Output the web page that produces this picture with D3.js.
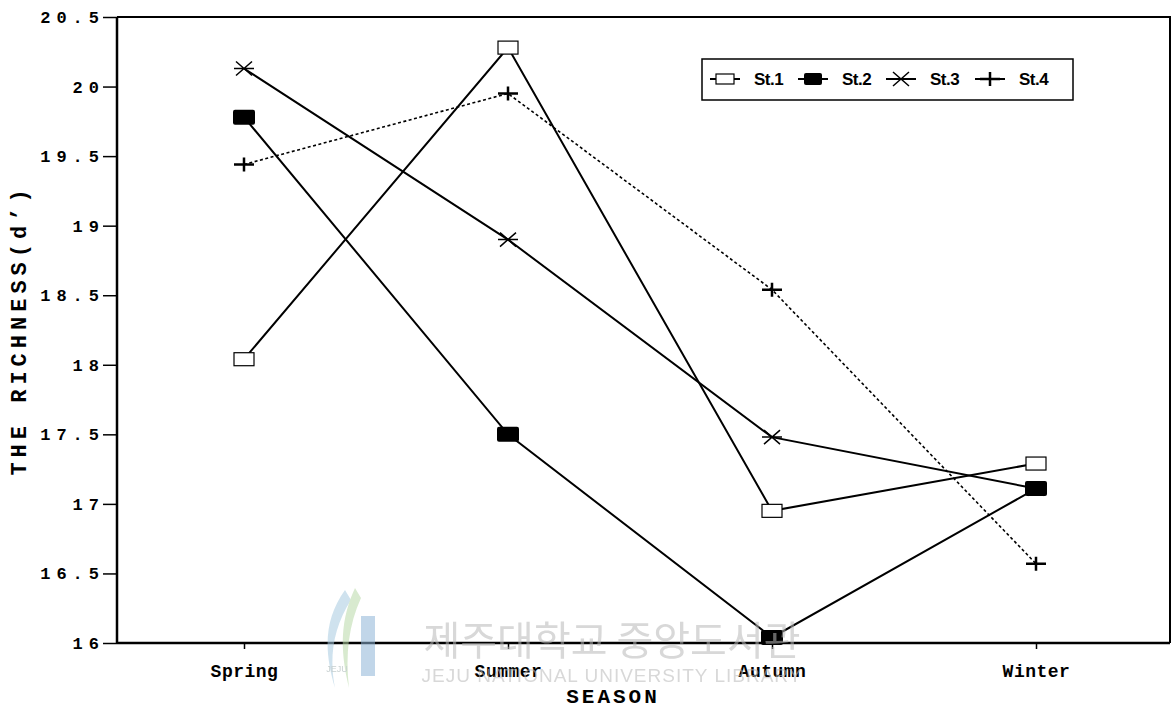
<!DOCTYPE html>
<html>
<head>
<meta charset="utf-8">
<script src="https://cdn.jsdelivr.net/npm/d3@7"></script>
<style>
  body { margin: 0; background: #fff; }
  svg { display: block; }
</style>
</head>
<body>
<script>
'use strict';

// data
const seasons = ["Spring", "Summer", "Autumn", "Winter"];
const stations = ["St.1", "St.2", "St.3", "St.4"];
const st1 = [18.04, 20.28, 16.95, 17.29];
const st2 = [19.78, 17.50, 16.04, 17.11];
const st3 = [20.13, 18.90, 17.48, 17.11];
const st4 = [19.44, 19.95, 18.54, 16.57];
const yTicks = [16, 16.5, 17, 17.5, 18, 18.5, 19, 19.5, 20, 20.5];
const yTickLabels = ["16", "16.5", "17", "17.5", "18", "18.5", "19", "19.5", "20", "20.5"];

(function() {
    const series = [
        {name: stations[0], values: st1, marker: "openSquare", dash: null},
        {name: stations[1], values: st2, marker: "filledSquare", dash: null},
        {name: stations[2], values: st3, marker: "asterisk", dash: null},
        {name: stations[3], values: st4, marker: "plus", dash: "3,2.5"}
    ];

    const width = 1174, height = 711;
    const plotLeft = 117, plotRight = 1170, plotTop = 17, plotBottom = 643;
    const monoFont = "'Liberation Mono', 'DejaVu Sans Mono', monospace";

    const svg = d3.select("body").append("svg")
        .attr("width", width)
        .attr("height", height);

    const x = d3.scalePoint().domain(seasons).range([244, 1036]);
    const y = d3.scaleLinear().domain([16, 20.5]).range([plotBottom, plotTop]);

    // frame: top and right lines
    svg.append("path")
        .attr("d", "M" + plotLeft + "," + plotTop + "H" + plotRight + "V" + plotBottom)
        .attr("fill", "none")
        .attr("stroke", "#000")
        .attr("stroke-width", 2);

    // y axis
    const yAxis = d3.axisLeft(y)
        .tickValues(yTicks)
        .tickFormat((d, i) => yTickLabels[i])
        .tickSize(14)
        .tickPadding(4);
    const gy = svg.append("g")
        .attr("transform", "translate(" + plotLeft + ",0)")
        .call(yAxis);
    gy.select(".domain").attr("stroke-width", 2.5).attr("d", "M0," + plotTop + "V" + plotBottom);
    gy.selectAll(".tick line").attr("stroke-width", 1.5);
    gy.selectAll(".tick text")
        .attr("font-family", monoFont)
        .attr("font-weight", "bold")
        .attr("font-size", "17px")
        .attr("letter-spacing", "6px")
        .attr("dx", "6px")
        .attr("fill", "#000");

    // x axis
    const xAxis = d3.axisBottom(x).tickSize(6).tickPadding(15);
    const gx = svg.append("g")
        .attr("transform", "translate(0," + plotBottom + ")")
        .call(xAxis);
    gx.select(".domain").attr("stroke-width", 2.5).attr("d", "M" + plotLeft + ",0H" + plotRight);
    gx.selectAll(".tick line").attr("stroke-width", 1.5);
    gx.selectAll(".tick text")
        .attr("font-family", monoFont)
        .attr("font-weight", "bold")
        .attr("font-size", "18px")
        .attr("letter-spacing", "0.5px")
        .attr("fill", "#000");

    // axis titles
    svg.append("text")
        .attr("transform", "translate(26," + 330 + ") rotate(-90)")
        .attr("text-anchor", "middle")
        .attr("font-family", monoFont)
        .attr("font-weight", "bold")
        .attr("font-size", "22px")
        .attr("letter-spacing", "5px")
        .text("THE RICHNESS(d\u2019)");

    svg.append("text")
        .attr("x", 613)
        .attr("y", 703)
        .attr("text-anchor", "middle")
        .attr("font-family", monoFont)
        .attr("font-weight", "bold")
        .attr("font-size", "21px")
        .attr("letter-spacing", "3px")
        .text("SEASON");

    // markers
    function drawMarker(g, type) {
        if (type === "openSquare") {
            g.append("rect").attr("x", -10).attr("y", -6.5).attr("width", 20).attr("height", 13)
                .attr("fill", "#fff").attr("stroke", "#000").attr("stroke-width", 1.2);
        } else if (type === "filledSquare") {
            g.append("rect").attr("x", -11).attr("y", -7.5).attr("width", 22).attr("height", 15)
                .attr("rx", 2).attr("fill", "#000");
        } else if (type === "asterisk") {
            g.append("path").attr("d", "M-10,0H10M-8,-7L8,7M-8,7L8,-7")
                .attr("stroke", "#000").attr("stroke-width", 1.5);
        } else if (type === "plus") {
            g.append("path").attr("d", "M-10,0H10M0,-7V7")
                .attr("stroke", "#000").attr("stroke-width", 2.5);
        }
    }

    const line = d3.line()
        .x((d, i) => x(seasons[i]))
        .y(d => y(d));

    series.forEach(s => {
        svg.append("path")
            .datum(s.values)
            .attr("d", line)
            .attr("fill", "none")
            .attr("stroke", "#000")
            .attr("stroke-width", s.dash ? 1.6 : 2)
            .attr("stroke-dasharray", s.dash);
    });

    series.forEach(s => {
        svg.selectAll(null)
            .data(s.values)
            .enter()
            .append("g")
            .attr("transform", (d, i) => "translate(" + x(seasons[i]) + "," + y(d) + ")")
            .each(function() { drawMarker(d3.select(this), s.marker); });
    });

    // legend
    const legend = svg.append("g");
    legend.append("rect")
        .attr("x", 702).attr("y", 59).attr("width", 371).attr("height", 41)
        .attr("fill", "#fff").attr("stroke", "#000").attr("stroke-width", 1.5);
    const legendX = [710, 798, 886, 975];
    series.forEach((s, i) => {
        const g = legend.append("g").attr("transform", "translate(" + legendX[i] + ",79)");
        g.append("line").attr("x1", 0).attr("x2", 30).attr("y1", 0).attr("y2", 0)
            .attr("stroke", "#000").attr("stroke-width", 2);
        const m = g.append("g").attr("transform", "translate(15,0)");
        drawMarker(m, s.marker);
        if (s.marker === "openSquare") m.select("rect").attr("y", -5).attr("height", 10).attr("width", 18).attr("x", -9);
        if (s.marker === "filledSquare") m.select("rect").attr("y", -6).attr("height", 12).attr("width", 18).attr("x", -9);
        g.append("text")
            .attr("x", 44).attr("y", 6)
            .attr("font-family", "'Liberation Sans', Arial, sans-serif")
            .attr("font-weight", "bold")
            .attr("font-size", "17px")
            .attr("letter-spacing", "-0.5px")
            .text(s.name);
    });

    // library watermark
    const wm = svg.append("g").attr("opacity", 0.55);
    const logo = wm.append("g").attr("transform", "translate(315,588)");
    logo.append("path")
        .attr("d", "M30,2 C10,30 8,60 20,100 C14,70 18,40 36,12 Z")
        .attr("fill", "#a8cbe0");
    logo.append("path")
        .attr("d", "M40,0 C26,30 24,60 34,100 C30,66 34,36 46,10 Z")
        .attr("fill", "#b9d9a8");
    logo.append("rect").attr("x", 46).attr("y", 28).attr("width", 14).attr("height", 60).attr("fill", "#8fb4d8");
    logo.append("text").attr("x", 22).attr("y", 84).attr("text-anchor", "middle")
        .attr("font-family", "'Liberation Sans', sans-serif").attr("font-size", "9px").attr("fill", "#9aa")
        .text("JEJU");
    wm.append("text")
        .attr("x", 612).attr("y", 655)
        .attr("text-anchor", "middle")
        .attr("font-family", "'Noto Sans CJK KR', sans-serif")
        .attr("font-size", "40px")
        .attr("fill", "#b8b8b8")
        .text("제주대학교 중앙도서관");
    wm.append("text")
        .attr("x", 612).attr("y", 682)
        .attr("text-anchor", "middle")
        .attr("font-family", "'Liberation Sans', sans-serif")
        .attr("font-size", "19px")
        .attr("letter-spacing", "1px")
        .attr("fill", "#b8b8b8")
        .text("JEJU NATIONAL UNIVERSITY LIBRARY");
})();
</script>
</body>
</html>
